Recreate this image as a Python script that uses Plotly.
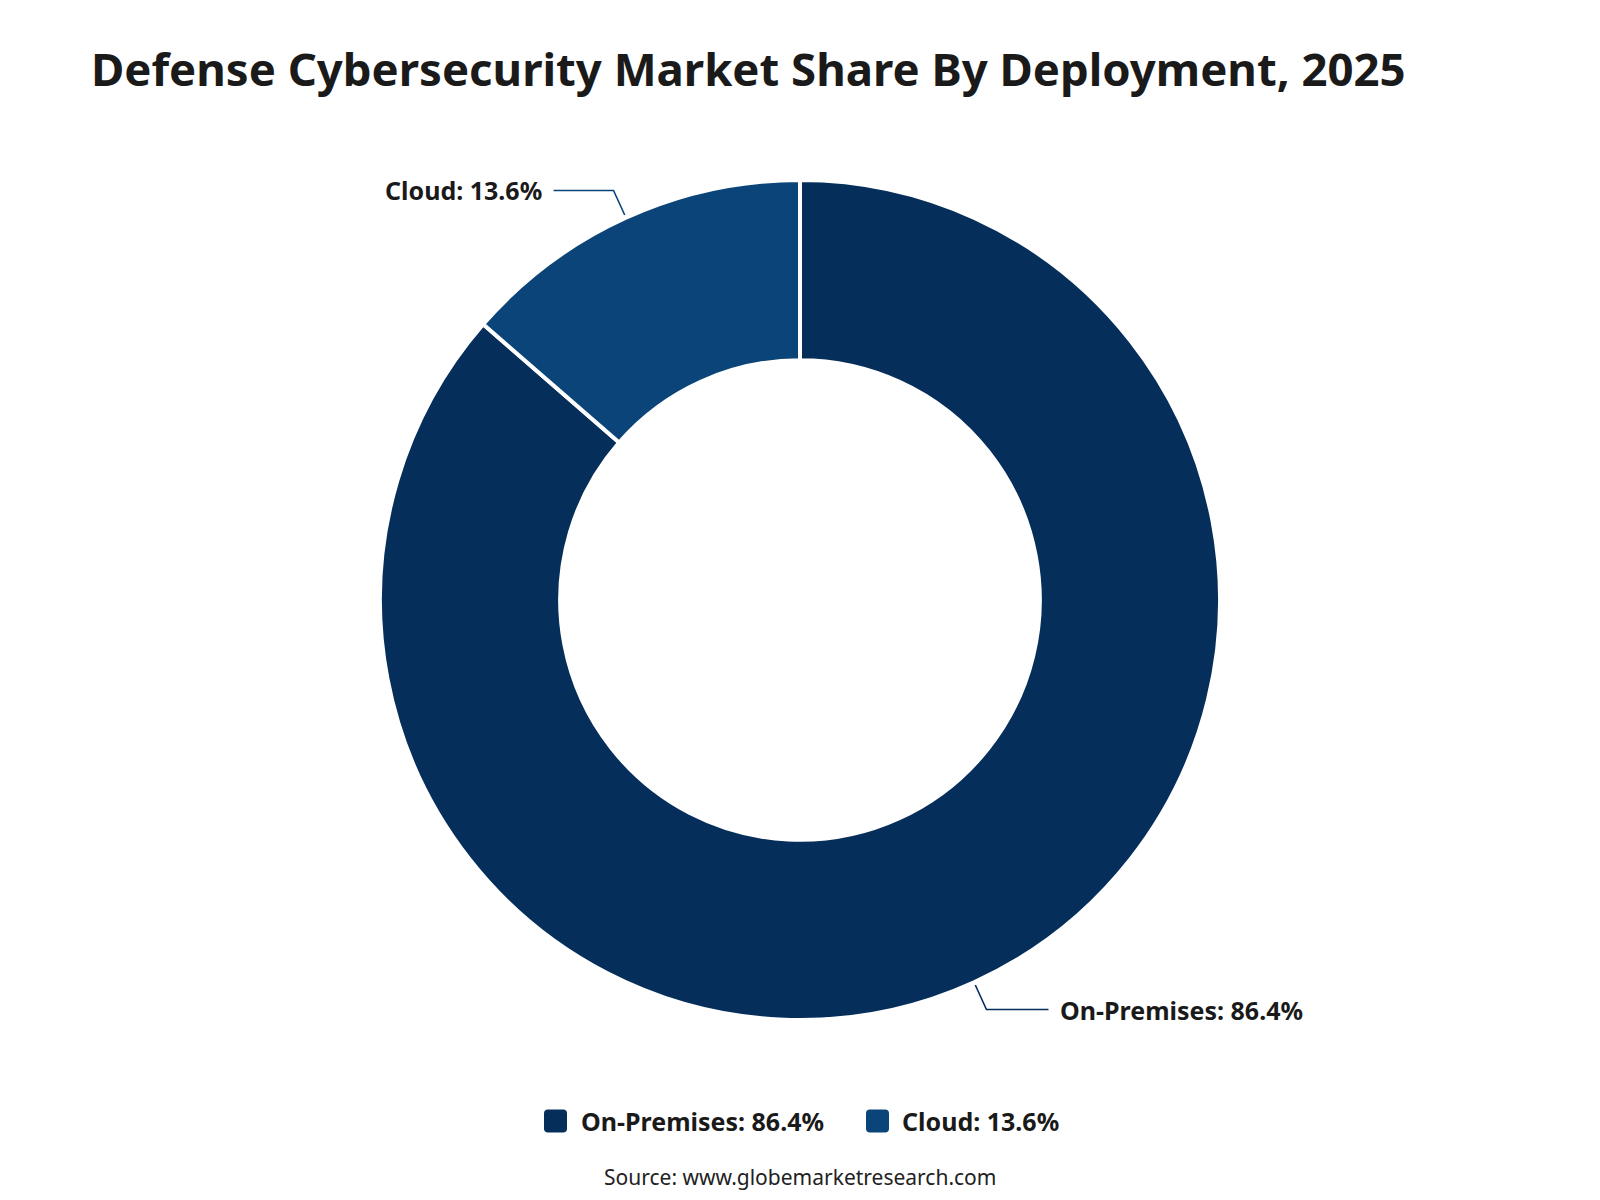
import math
import plotly.graph_objects as go

# ---- data ----
categories = ["On-Premises", "Cloud"]
shares = [86.4, 13.6]
colors = ["#062E5B", "#0B4479"]
title_text = "Defense Cybersecurity Market Share By Deployment, 2025"
source_text = "Source: www.globemarketresearch.com"

W, H = 1600, 1200
CX, CY, R = 800, 600, 420
FONT = "Noto Sans"

fig = go.Figure()
fig.add_trace(go.Pie(
    labels=categories, values=shares, hole=0.571, sort=False,
    direction="clockwise", rotation=0,
    marker=dict(colors=colors, line=dict(color="white", width=4)),
    textinfo="none", hoverinfo="label+percent", showlegend=False,
    domain=dict(x=[0, 1], y=[(CY - R) / H, (CY + R) / H]),
))

def px(x, y):
    return x / W, 1 - y / H

shapes, annos = [], []
total = sum(shares)
cum = 0.0
for cat, v, col in zip(categories, shares, colors):
    mid = (cum + v / 2) / total * 2 * math.pi
    cum += v
    sx, sy = CX + (R + 3) * math.sin(mid), CY - (R + 3) * math.cos(mid)
    ex, ey = CX + (R + 30) * math.sin(mid), CY - (R + 30) * math.cos(mid)
    right = math.sin(mid) >= 0
    hx = ex + (62 if right else -60)
    p = [px(sx, sy), px(ex, ey), px(hx, ey)]
    shapes.append(dict(type="path", xref="paper", yref="paper",
                       path="M{},{} L{},{} L{},{}".format(p[0][0], p[0][1], p[1][0], p[1][1], p[2][0], p[2][1]),
                       line=dict(color=col, width=1.6)))
    tx, ty = px(hx + (10 if right else -10), ey)
    annos.append(dict(x=tx, y=ty, xref="paper", yref="paper", showarrow=False,
                      xanchor="left" if right else "right", yanchor="middle",
                      text=f"<b>{cat}: {v}%</b>", font=dict(family=FONT, size=25, color="#1a1a1a")))

# custom legend
leg_y = 1121
leg_items_x = [(544, 579), (866, 900)]
for (mx, tx), cat, v, col in zip(leg_items_x, categories, shares, colors):
    s = 23
    r = 4
    x0, y0, x1, y1 = mx, leg_y - s / 2, mx + s, leg_y + s / 2
    pts = [px(x0 + r, y0), px(x1 - r, y0), px(x1, y0 + r), px(x1, y1 - r),
           px(x1 - r, y1), px(x0 + r, y1), px(x0, y1 - r), px(x0, y0 + r)]
    path = "M{},{} L{},{} Q{},{} {},{} L{},{} Q{},{} {},{} L{},{} Q{},{} {},{} L{},{} Q{},{} {},{} Z".format(
        *pts[0], *pts[1], *px(x1, y0), *pts[2], *pts[3], *px(x1, y1), *pts[4],
        *pts[5], *px(x0, y1), *pts[6], *pts[7], *px(x0, y0), *pts[0])
    shapes.append(dict(type="path", xref="paper", yref="paper", path=path,
                       fillcolor=col, line=dict(width=0)))
    ax, ay = px(tx, leg_y)
    annos.append(dict(x=ax, y=ay, xref="paper", yref="paper", showarrow=False,
                      xanchor="left", yanchor="middle",
                      text=f"<b>{cat}: {v}%</b>", font=dict(family=FONT, size=25, color="#1a1a1a")))

sx_, sy_ = px(800, 1177)
annos.append(dict(x=sx_, y=sy_, xref="paper", yref="paper", showarrow=False,
                  xanchor="center", yanchor="middle", text=source_text,
                  font=dict(family=FONT, size=21, color="#222222")))

fig.update_layout(
    width=W, height=H, margin=dict(l=0, r=0, t=0, b=0),
    paper_bgcolor="white", plot_bgcolor="white",
    title=dict(text=f"<b>{title_text}</b>", x=91 / W, xanchor="left", xref="paper",
               y=1 - 70 / H, yref="container", yanchor="middle",
               font=dict(family=FONT, size=45.5, color="#1a1a1a")),
    shapes=shapes, annotations=annos,
)
fig.write_html("out.html")
